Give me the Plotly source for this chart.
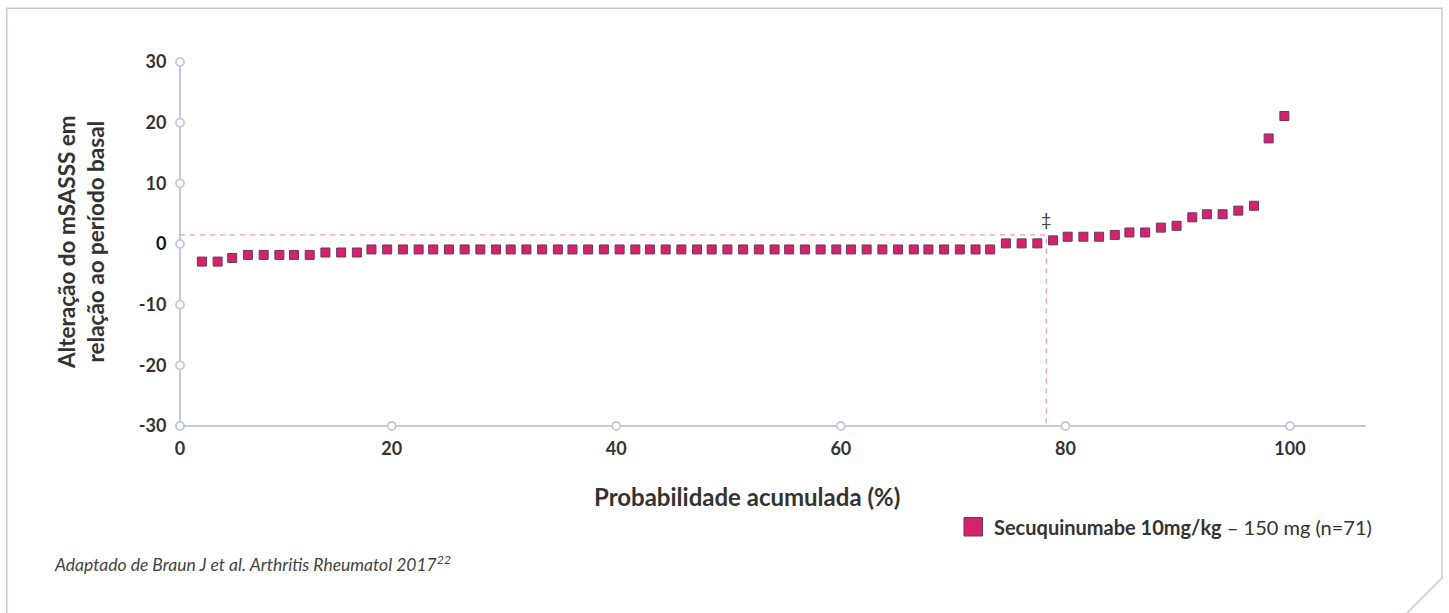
import plotly.graph_objects as go

# ---------------- data ----------------
cum_prob = [3.1, 4.5, 5.8, 7.2, 8.6, 10.0, 11.3, 12.7, 14.1, 15.5,
            16.9, 18.2, 19.6, 21.0, 22.4, 23.7, 25.1, 26.5, 27.9, 29.3,
            30.6, 32.0, 33.4, 34.8, 36.1, 37.5, 38.9, 40.3, 41.7, 43.0,
            44.4, 45.8, 47.2, 48.5, 49.9, 51.3, 52.7, 54.1, 55.4, 56.8,
            58.2, 59.6, 60.9, 62.3, 63.7, 65.1, 66.5, 67.8, 69.2, 70.6,
            72.0, 73.3, 74.7, 76.1, 77.5, 78.9, 80.2, 81.6, 83.0, 84.4,
            85.7, 87.1, 88.5, 89.9, 91.3, 92.6, 94.0, 95.4, 96.8, 98.1,
            99.5]
msasss_change = [-2.9, -2.9, -2.3, -1.8, -1.8, -1.8, -1.8, -1.8, -1.4, -1.4,
                 -1.4, -0.9, -0.9, -0.9, -0.9, -0.9, -0.9, -0.9, -0.9, -0.9,
                 -0.9, -0.9, -0.9, -0.9, -0.9, -0.9, -0.9, -0.9, -0.9, -0.9,
                 -0.9, -0.9, -0.9, -0.9, -0.9, -0.9, -0.9, -0.9, -0.9, -0.9,
                 -0.9, -0.9, -0.9, -0.9, -0.9, -0.9, -0.9, -0.9, -0.9, -0.9,
                 -0.9, -0.9, 0.1, 0.1, 0.1, 0.6, 1.2, 1.2, 1.2, 1.5,
                 1.9, 1.9, 2.7, 3.0, 4.4, 4.9, 4.9, 5.5, 6.3, 17.4,
                 21.1]
ref_prob = 78.3      # reference cut-off (dashed lines)
ref_change = 1.5
marker_label_y = 4.1  # position of the double-dagger note

x_tick_vals = [20, 40, 60, 80, 100]
x_tick_text = ["20", "40", "60", "80", "100"]
y_tick_vals = [-30, -20, -10, 0, 10, 20, 30]
y_tick_text = ["-30", "-20", "-10", "<span style='color:#111'>0</span>", "10", "20", "30"]

series_name = "<b>Secuquinumabe 10mg/kg</b> – 150 mg (n=71)"
x_title = "<b>Probabilidade acumulada (%)</b>"
y_title = "<b>Alteração do mSASSS em<br>relação ao período basal</b>"
source_note = "<i>Adaptado de Braun J et al. Arthritis Rheumatol 2017<sup>22</sup></i>"

# ---------------- layout constants ----------------
W, H = 1449, 613
L, R, T, B = 180, 83, 62, 187
X_MIN, X_MAX = 1.15, 106.77
Y_MIN, Y_MAX = -30, 30

FONT = "Source Sans Pro, Lato, sans-serif"
AXIS_COL = "#c3c8de"
TEXT_COL = "#333333"
PINK = "#d3246b"
PINK_EDGE = "#6e3463"
DASH_COL = "#f29bb6"

pw, ph = W - L - R, H - T - B


def px(xp):
    return (xp - L) / pw


def py(yp):
    return (H - B - yp) / ph


fig = go.Figure()

# axis lines
fig.add_shape(type="line", xref="x domain", yref="y domain", x0=0, x1=0, y0=0, y1=1,
              line=dict(color=AXIS_COL, width=2.2), layer="below")
fig.add_shape(type="line", xref="x domain", yref="y domain", x0=0, x1=1, y0=0, y1=0,
              line=dict(color=AXIS_COL, width=2.2), layer="below")

# dashed reference lines
fig.add_trace(go.Scatter(
    x=[X_MIN, ref_prob, ref_prob], y=[ref_change, ref_change, Y_MIN],
    mode="lines", line=dict(color=DASH_COL, width=1.2, dash="5px,5px"),
    hoverinfo="skip", showlegend=False, cliponaxis=False))

# tick circles on axes
fig.add_trace(go.Scatter(
    x=[X_MIN] + x_tick_vals, y=[Y_MIN] * (len(x_tick_vals) + 1),
    mode="markers", marker=dict(symbol="circle", size=8, color="white",
                                line=dict(color=AXIS_COL, width=1.8)),
    hoverinfo="skip", showlegend=False, cliponaxis=False))
fig.add_trace(go.Scatter(
    x=[X_MIN] * len(y_tick_vals), y=y_tick_vals,
    mode="markers", marker=dict(symbol="circle", size=8, color="white",
                                line=dict(color=AXIS_COL, width=1.8)),
    hoverinfo="skip", showlegend=False, cliponaxis=False))

# data points
fig.add_trace(go.Scatter(
    x=cum_prob, y=msasss_change, mode="markers",
    marker=dict(symbol="square", size=9, color=PINK,
                line=dict(color=PINK_EDGE, width=1)),
    name=series_name, showlegend=False, cliponaxis=False))

# double dagger note
fig.add_annotation(x=ref_prob, y=marker_label_y, text="‡", showarrow=False,
                   font=dict(family=FONT, size=18, color="#444444"))

fig.update_xaxes(range=[X_MIN, X_MAX], showgrid=False, zeroline=False,
                 showline=False,
                 tickvals=[X_MIN] + x_tick_vals, ticktext=["0"] + x_tick_text,
                 ticks="outside", ticklen=6, tickcolor="rgba(0,0,0,0)",
                 tickfont=dict(family=FONT, size=18, color=TEXT_COL, weight="bold"))
fig.update_yaxes(range=[Y_MIN, Y_MAX], showgrid=False, zeroline=False,
                 showline=False,
                 tickvals=y_tick_vals, ticktext=y_tick_text,
                 ticks="outside", ticklen=9, tickcolor="rgba(0,0,0,0)",
                 tickfont=dict(family=FONT, size=18, color=TEXT_COL, weight="bold"))

# axis titles
fig.add_annotation(xref="paper", yref="paper", x=px(747), y=py(496),
                   text=x_title, showarrow=False, xanchor="center", yanchor="middle",
                   font=dict(family=FONT, size=24, color=TEXT_COL))
fig.add_annotation(xref="paper", yref="paper", x=px(81), y=py(242),
                   text=y_title, showarrow=False, textangle=-90,
                   xanchor="center", yanchor="middle",
                   font=dict(family=FONT, size=22.5, color=TEXT_COL))

# legend (manual)
fig.add_shape(type="rect", xref="paper", yref="paper",
              x0=px(964), x1=px(982.5), y0=py(536), y1=py(517.5),
              fillcolor=PINK, line=dict(color=PINK_EDGE, width=1))
fig.add_annotation(xref="paper", yref="paper", x=px(992), y=py(527),
                   text=series_name, showarrow=False, xanchor="left", yanchor="middle",
                   font=dict(family=FONT, size=20, color=TEXT_COL))

# source note
fig.add_annotation(xref="paper", yref="paper", x=px(52), y=py(563),
                   text=source_note, showarrow=False, xanchor="left", yanchor="middle",
                   font=dict(family=FONT, size=17.5, color="#444444"))

# frame with cut corner
frame_pts = [(6.7, 640), (6.7, 8.3), (1442, 8.3), (1442, 578), (1380, 640)]
path = "M " + " L ".join(f"{px(a):.5f},{py(b):.5f}" for a, b in frame_pts)
fig.add_shape(type="path", xref="paper", yref="paper", path=path,
              line=dict(color=AXIS_COL, width=1.5), layer="below")

fig.update_layout(width=W, height=H, margin=dict(l=L, r=R, t=T, b=B),
                  plot_bgcolor="white", paper_bgcolor="white",
                  font=dict(family=FONT, color=TEXT_COL), showlegend=False)

fig.write_html("out.html", config={"displayModeBar": False})
